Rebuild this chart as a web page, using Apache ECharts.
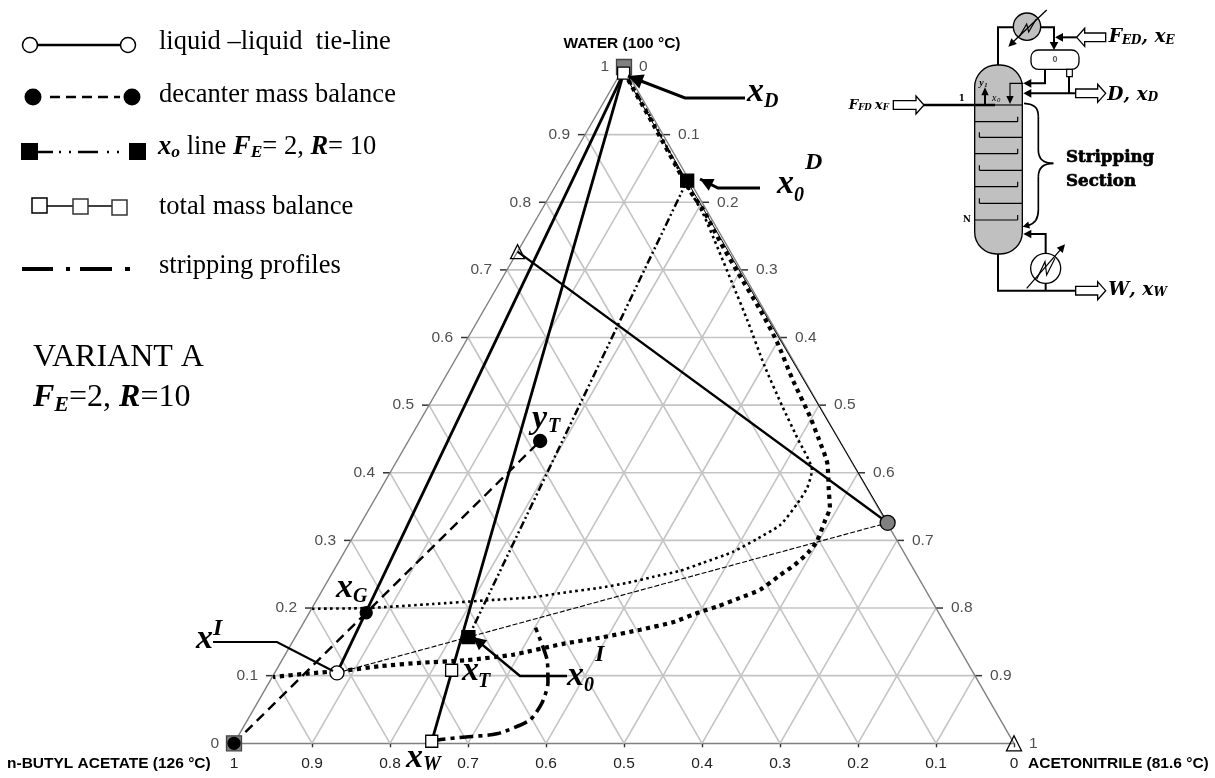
<!DOCTYPE html>
<html>
<head>
<meta charset="utf-8">
<title>Variant A</title>
<style>
	html,body{margin:0;padding:0;background:#fff;}
	#chart{width:1215px;height:778px;}
</style>
<script src="https://cdn.jsdelivr.net/npm/echarts@6/dist/echarts.min.js"></script>
</head>
<body>
<div id="chart"></div>
<script>
// compositions are [acetonitrile, water]
var tickValues=[0,0.1,0.2,0.3,0.4,0.5,0.6,0.7,0.8,0.9,1];
var innerTicks=[0.1,0.2,0.3,0.4,0.5,0.6,0.7,0.8,0.9];

var pointXD=[0.004,0.991];
var pointWater=[0,1];
var pointButyl=[0,0];
var pointAcn=[1,0];
var pointX0D=[0.165,0.832];
var pointXG=[0.073,0.193];
var pointXI=[0.080,0.104];
var pointX0I=[0.222,0.157];
var pointXT=[0.225,0.108];
var pointXW=[0.252,0.003];
var pointYT=[0.169,0.447];
var pointAzeo=[0.675,0.326];
var pointTriangle=[0,0.727];

var profileThin=[[0.004,0.992],[0.082,0.915],[0.175,0.818],[0.209,0.784],[0.256,0.730],[0.298,0.681],[0.345,0.626],[0.402,0.557],[0.455,0.497],[0.496,0.452],[0.539,0.404],[0.546,0.378],[0.545,0.355],[0.539,0.323],[0.519,0.302],[0.498,0.283],[0.468,0.267],[0.444,0.255],[0.414,0.246],[0.385,0.237],[0.354,0.230],[0.307,0.222],[0.275,0.216],[0.214,0.211],[0.152,0.206],[0.071,0.200],[0,0.199]];
var profileThick=[[0.004,0.992],[0.080,0.915],[0.175,0.818],[0.207,0.789],[0.252,0.742],[0.298,0.696],[0.354,0.641],[0.399,0.594],[0.448,0.537],[0.497,0.483],[0.523,0.452],[0.553,0.415],[0.575,0.375],[0.590,0.348],[0.593,0.330],[0.598,0.298],[0.595,0.282],[0.587,0.264],[0.576,0.249],[0.561,0.227],[0.541,0.215],[0.518,0.202],[0.500,0.194],[0.473,0.179],[0.437,0.168],[0.395,0.157],[0.348,0.147],[0.292,0.131],[0.237,0.123],[0.179,0.119],[0.130,0.114],[0.091,0.108],[0.042,0.103],[0.001,0.098]];
var profileStripping=[[0.252,0.003],[0.259,0.005],[0.289,0.009],[0.330,0.014],[0.362,0.034],[0.365,0.060],[0.358,0.089],[0.340,0.123],[0.301,0.171]];

var sans='"Liberation Sans"';
var serif='"Liberation Serif"';
var measure=document.createElement('canvas').getContext('2d');

function toXY(p){
	return [p[0]+p[1]/2,p[1]];
}
function plain(name,points,color,width,type,smooth){
	return {
		name:name,type:'line',data:points.map(toXY),clip:false,symbol:'none',silent:true,
		smooth:smooth||false,
		lineStyle:{color:color,width:width,type:type||'solid',cap:'butt'}
	};
}
function marker(name,p,symbol,size,fill,border){
	return {
		name:name,type:'scatter',data:[toXY(p)],clip:false,silent:true,z:5,
		symbol:symbol,symbolSize:size,
		itemStyle:{color:fill,borderColor:border||'#000',borderWidth:1.3,opacity:1}
	};
}
function labels(name,data,position,distance){
	return {
		name:name,type:'scatter',data:data,clip:false,silent:true,symbolSize:0,
		label:{show:true,position:position,distance:distance,color:'#222',fontFamily:sans,fontSize:15.5,
			formatter:function(o){return o.data[2];}}
	};
}

var series=[];
innerTicks.forEach(function(t){
	series.push(plain('w'+t,[[0,t],[1-t,t]],'#c4c4c4',1.6));
	series.push(plain('a'+t,[[t,0],[t,1-t]],'#c4c4c4',1.6));
	series.push(plain('b'+t,[[1-t,0],[0,1-t]],'#c4c4c4',1.6));
	// short side ticks
	var l=toXY([0,t]),r=toXY([1-t,t]);
	series.push({type:'line',data:[l,[l[0]-0.009,t]],clip:false,symbol:'none',silent:true,lineStyle:{color:'#333',width:1.5}});
	series.push({type:'line',data:[r,[r[0]+0.009,t]],clip:false,symbol:'none',silent:true,lineStyle:{color:'#333',width:1.5}});
});
series.push(plain('edgeLeft',[[0,0],[0,1]],'#808080',1.4));
series.push(plain('edgeRight',[[0,1],[1,0]],'#808080',1.4));

series.push(labels('leftLabels',tickValues.map(function(t){var p=toXY([0,t]);return [p[0],p[1],String(t)];}),'left',15));
series.push(labels('rightLabels',tickValues.map(function(t){var p=toXY([t,1-t]);return [p[0],p[1],String(t)];}),'right',15));

series.push(plain('thinSide',[pointXD,pointAzeo],'#000',1));
series.push(plain('thinDash',[pointXI,pointX0I,pointAzeo],'#000',1.1,[5,2]));
series.push(plain('profileThin',profileThin,'#000',2.6,[2.6,3.4],0.2));
series.push(plain('profileThick',profileThick,'#000',4.2,[4.2,4.4],0.2));
series.push(plain('tieLine1',[pointXI,pointXD],'#000',2.8));
series.push(plain('tieLine2',[pointXW,pointXD],'#000',2.8));
series.push(plain('tieLine3',[pointTriangle,pointAzeo],'#000',2.4));
series.push(plain('decanter',[pointButyl,pointXG,pointYT],'#000',2.4,[10,6]));
series.push(plain('x0Line',[pointX0D,pointX0I],'#000',2.5,[8,3,2,3,2,3]));
series.push(plain('stripping',profileStripping,'#000',3.6,[14,5,4,5],0.2));

series.push(marker('water',pointWater,'rect',15,'#808080','#444'));
series.push(marker('xD',pointXD,'rect',12,'#fff'));
series.push(marker('butyl',pointButyl,'rect',15,'#808080','#444'));
series.push(marker('butylDot',pointButyl,'circle',12,'#000'));
series.push(marker('x0D',pointX0D,'rect',13,'#000'));
series.push(marker('x0I',pointX0I,'rect',13,'#000'));
series.push(marker('xT',pointXT,'rect',12,'#fff'));
series.push(marker('xW',pointXW,'rect',12,'#fff'));
series.push(marker('xG',pointXG,'circle',12,'#000'));
series.push(marker('yT',pointYT,'circle',13,'#000'));
series.push(marker('xI',pointXI,'circle',14,'#fff'));
series.push(marker('azeo',pointAzeo,'circle',15,'#808080'));
series.push(marker('triangle',pointTriangle,'triangle',14,'rgba(255,255,255,0)'));
series.push(marker('acn',pointAcn,'triangle',15,'rgba(255,255,255,0)'));

// ---- graphic helpers
function txt(x,y,str,font,extra){
	var s={text:str,font:font,fill:'#000',align:'left',verticalAlign:'middle'};
	for(var k in extra){s[k]=extra[k];}
	return {type:'text',x:x,y:y,z:12,silent:true,style:s};
}
// pieces: [text,font,dy]
function seq(x,y,pieces){
	var out=[];
	pieces.forEach(function(p){
		out.push(txt(x,y+(p[2]||0),p[0],p[1]));
		measure.font=p[1];
		x+=measure.measureText(p[0]).width;
	});
	return out;
}
function seg(pts,width,color,z){
	return {type:'polyline',silent:true,z:z||10,shape:{points:pts},style:{stroke:color||'#000',lineWidth:width,fill:null}};
}
function head(tip,from,size,width){
	var dx=tip[0]-from[0],dy=tip[1]-from[1],n=Math.sqrt(dx*dx+dy*dy);
	dx/=n;dy/=n;
	var bx=tip[0]-dx*size,by=tip[1]-dy*size,w=width||size*0.5;
	return {type:'polygon',silent:true,z:11,shape:{points:[tip,[bx-dy*w,by+dx*w],[bx+dy*w,by-dx*w]]},style:{fill:'#000'}};
}
function leader(pts,width,size){
	var n=pts.length;
	return [seg(pts,width),head(pts[n-1],pts[n-2],size,size*0.5)];
}
function hollow(x0,x1,yc){
	var d=x1>x0?1:-1;
	return {type:'polygon',silent:true,z:12,shape:{points:[[x0,yc-13],[x1-d*24,yc-13],[x1-d*24,yc-27],[x1,yc],[x1-d*24,yc+27],[x1-d*24,yc+13],[x0,yc+13]]},style:{fill:'#fff',stroke:'#000',lineWidth:4}};
}
function curve(a,c1,c2,b,w){
	return {type:'bezierCurve',silent:true,z:10,shape:{x1:a[0],y1:a[1],cpx1:c1[0],cpy1:c1[1],cpx2:c2[0],cpy2:c2[1],x2:b[0],y2:b[1]},style:{stroke:'#000',lineWidth:w,fill:null}};
}

var graphics=[];
function add(list){graphics=graphics.concat(list);}

// ---- legend
var fLeg='26.5px '+serif, fLegB='italic bold 26.5px '+serif, fLegS='italic bold 17.5px '+serif;
add([seg([[30,45],[128,45]],2.4),
	{type:'circle',silent:true,z:11,shape:{cx:30,cy:45,r:7.5},style:{fill:'#fff',stroke:'#000',lineWidth:1.5}},
	{type:'circle',silent:true,z:11,shape:{cx:128,cy:45,r:7.5},style:{fill:'#fff',stroke:'#000',lineWidth:1.5}},
	txt(159,42,'liquid \u2013liquid  tie-line',fLeg)]);
add([seg([[50,97],[120,97]],2.6,'#000'),
	{type:'circle',silent:true,z:11,shape:{cx:33,cy:97,r:8.5},style:{fill:'#000'}},
	{type:'circle',silent:true,z:11,shape:{cx:132,cy:97,r:8.5},style:{fill:'#000'}},
	txt(159,95,'decanter mass balance',fLeg)]);
graphics[graphics.length-4].style.lineDash=[10,6];
add([seg([[37,152],[129,152]],2.6),
	{type:'rect',silent:true,z:11,shape:{x:21,y:143,width:17,height:17},style:{fill:'#000'}},
	{type:'rect',silent:true,z:11,shape:{x:129,y:143,width:17,height:17},style:{fill:'#000'}}]);
graphics[graphics.length-3].style.lineDash=[16,6,2,8,2,7,20,9,2,8,2,100];
add(seq(158,147,[['x',fLegB],['o',fLegS,5],[' line ',fLeg],['F',fLegB],['E',fLegS,5],['= 2, ',fLeg],['R',fLegB],['= 10',fLeg]]));
add([seg([[40,206],[120,206]],1.6),
	{type:'rect',silent:true,z:11,shape:{x:32,y:198,width:15,height:15},style:{fill:'#fff',stroke:'#000',lineWidth:1.5}},
	{type:'rect',silent:true,z:11,shape:{x:73,y:199,width:15,height:15},style:{fill:'#fff',stroke:'#333',lineWidth:1.5}},
	{type:'rect',silent:true,z:11,shape:{x:112,y:200,width:15,height:15},style:{fill:'#fff',stroke:'#333',lineWidth:1.5}},
	txt(159,207,'total mass balance',fLeg)]);
add([seg([[22,269],[131,269]],3.8),txt(159,266,'stripping profiles',fLeg)]);
graphics[graphics.length-2].style.lineDash=[31,13,4,10,32,13,5,100];

// ---- variant note
add([txt(33,358,'VARIANT A','32px '+serif)]);
add(seq(33,398,[['F','italic bold 32px '+serif],['E','italic bold 22px '+serif,7],['=2, ','32px '+serif],['R','italic bold 32px '+serif],['=10','32px '+serif]]));

// ---- corner names
var fCorner='bold 15.5px '+sans;
add([txt(622,44,'WATER (100 \u00b0C)',fCorner,{align:'center'}),
	txt(7,764,'n-BUTYL ACETATE (126 \u00b0C)',fCorner),
	txt(1028,764,'ACETONITRILE (81.6 \u00b0C)',fCorner)]);

// ---- point names
var fBig='italic bold 34px '+serif, fSub='italic bold 20px '+serif, fSup='italic bold 24px '+serif;
add([txt(747,92,'x',fBig),txt(764,102,'D',fSub),
	txt(777,184,'x',fBig),txt(794,196,'0',fSub),txt(805,163,'D',fSup),
	txt(336,588,'x',fBig),txt(353,597,'G',fSub),
	txt(196,639,'x',fBig),txt(213,629,'I',fSup),
	txt(567,676,'x',fBig),txt(584,686,'0',fSub),txt(595,655,'I',fSup),
	txt(462,671,'x',fBig),txt(478,682,'T',fSub),
	txt(406,758,'x',fBig),txt(423,765,'W',fSub),
	txt(532,419,'y',fBig),txt(548,427,'T',fSub)]);
add(leader([[745,98],[685,98],[628,76]],3,15));
add(leader([[760,188],[718,188],[700,179]],3,13));
add([seg([[213,642],[277,642],[333,671]],2.2)]);
add(leader([[567,676],[520,676],[473,637]],2.4,13));

// ---- column schematic, drawn in 3x coordinates
var kids=[];
function k(list){kids=kids.concat(list);}
var L=6,M=4,T=3.5;
k([{type:'rect',silent:true,z:9,shape:{x:284,y:195,width:143,height:567,r:66},style:{fill:'#c0c0c0',stroke:'#000',lineWidth:M}}]);
[[285,413,365,1],[298,427,412,0],[285,413,461,1],[298,427,511,0],[285,413,560,1],[298,427,610,0],[285,413,660,1]].forEach(function(t){
	var e=t[3]?t[1]:t[0];
	k([seg([[t[0],t[2]],[t[1],t[2]]],T),seg([[e,t[2]-15],[e,t[2]]],T)]);
});
k([seg([[130,315],[345,315]],7),seg([[345,315],[427,315]],T)]);
// condenser and decanter
k([seg([[354,195],[354,82],[400,82]],L),
	{type:'circle',silent:true,z:10,shape:{cx:441,cy:80,r:41},style:{fill:'#c0c0c0',stroke:'#000',lineWidth:M}},
	seg([[418,110],[440,72],[446,96],[468,58]],T),
	seg([[500,30],[395,130]],M),head([385,140],[500,30],24,12),
	seg([[482,82],[522,82],[522,130]],L),head([522,150],[522,110],24,13),
	seg([[590,112],[540,112]],L),head([525,112],[590,112],24,13),
	{type:'rect',silent:true,z:10,shape:{x:453,y:150,width:144,height:58,r:22},style:{fill:'#fff',stroke:'#000',lineWidth:M}},
	txt(525,178,'0','bold 27px '+sans,{align:'center',fill:'#555'}),
	seg([[495,208],[495,250],[450,250]],L),head([430,250],[495,250],24,13),
	{type:'rect',silent:true,z:10,shape:{x:560,y:208,width:17,height:22},style:{fill:'#fff',stroke:'#000',lineWidth:T}},
	seg([[567,230],[567,280]],L),
	seg([[587,280],[450,280]],L),head([430,280],[587,280],24,13),
	seg([[430,250],[390,250],[390,290]],T),head([390,312],[390,280],24,11),
	seg([[315,315],[315,285]],L),head([315,262],[315,300],24,11)]);
k([txt(298,250,'y','italic bold 30px '+serif),txt(313,256,'1','italic bold 20px '+serif),
	txt(336,296,'x','italic 30px '+serif),txt(351,302,'0','italic 20px '+serif),
	txt(236,296,'1','bold 26px "DejaVu Serif"'),txt(249,660,'N','bold 26px "DejaVu Serif"')]);
// brace
k([curve([432,310],[465,312],[475,325],[475,350],M+1),
	seg([[475,350],[475,450]],M+1),
	curve([475,450],[475,480],[495,490],[520,490],M+1),
	curve([520,490],[495,490],[475,500],[475,530],M+1),
	seg([[475,530],[475,630]],M+1),
	curve([475,630],[475,660],[460,672],[445,676],M+1),head([428,680],[460,672],20,11)]);
// reboiler
k([seg([[354,762],[354,872],[587,872]],L),
	seg([[497,760],[497,702],[450,702]],L),head([430,702],[497,702],24,13),
	seg([[497,850],[497,872]],L),
	{type:'circle',silent:true,z:10,shape:{cx:497,cy:805,r:45},style:{fill:'#fff',stroke:'#000',lineWidth:M}},
	seg([[470,838],[495,785],[500,825],[525,775]],T),
	seg([[440,865],[545,745]],M),head([555,733],[440,865],24,12)]);
// hollow arrows
k([hollow(40,132,315),hollow(587,677,280),hollow(677,590,112),hollow(587,677,872)]);
var fS='italic bold 56px "DejaVu Serif"', fSs='italic bold 36px "DejaVu Serif"';
var fF='italic bold 40px "DejaVu Serif"', fFs='italic bold 26px "DejaVu Serif"';
k(seq(686,112,[['F',fS],['ED',fSs,10],[', ',fS],['x',fS],['E',fSs,10]]));
k(seq(682,285,[['D',fS],[', ',fS],['x',fS],['D',fSs,10]]));
k(seq(685,870,[['W',fS],[', ',fS],['x',fS],['W',fSs,10]]));
k(seq(-94,316,[['F',fF],['FD',fFs,8],[' ',fFs],['x',fF],['F',fFs,8]]));
var fStrip={stroke:'#000',lineWidth:2};
k([txt(558,472,'Stripping','bold 50px "DejaVu Serif"',fStrip),txt(558,546,'Section','bold 50px "DejaVu Serif"',fStrip)]);
add([{type:'group',x:880,y:0,scaleX:1/3,scaleY:1/3,silent:true,children:kids}]);

var chart=echarts.init(document.getElementById('chart'));
chart.setOption({
	animation:false,
	backgroundColor:'#fff',
	grid:{left:234,top:67,width:780,height:676.3},
	xAxis:{
		type:'value',min:0,max:1,interval:0.1,
		axisLine:{show:true,lineStyle:{color:'#808080',width:1.4}},
		axisTick:{show:true,length:4,lineStyle:{color:'#333',width:1.4}},
		splitLine:{show:false},
		axisLabel:{margin:12,color:'#222',fontFamily:sans,fontSize:15.5,showMinLabel:true,showMaxLabel:true,
			formatter:function(v){return String(+(1-v).toFixed(1));}}
	},
	yAxis:{type:'value',min:0,max:1,show:false},
	series:series,
	graphic:{elements:graphics}
});
</script>
</body>
</html>
